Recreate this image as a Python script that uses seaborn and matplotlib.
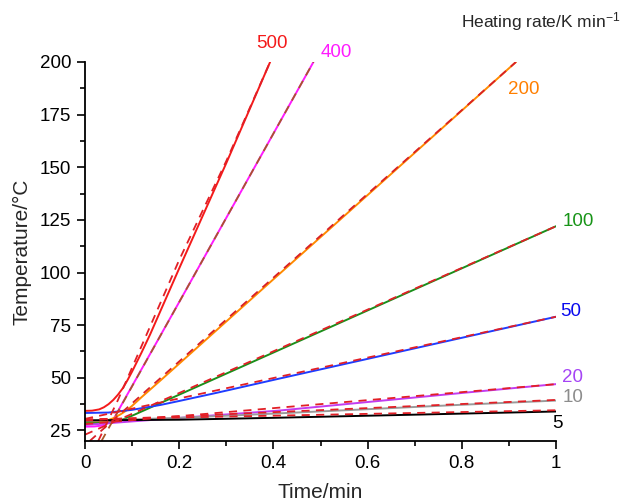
import numpy as np
import pandas as pd
import matplotlib
matplotlib.use("Agg")
import matplotlib.pyplot as plt
from matplotlib.ticker import MultipleLocator, FixedLocator
import seaborn as sns

# Heating rates (K/min) used as curve labels
rates = ["500", "400", "200", "100", "50", "20", "10", "5"]

# Measured temperature traces (solid lines)
t500 = [0, 0.015, 0.03, 0.04, 0.05, 0.06, 0.07, 0.08, 0.09, 0.1, 0.12, 0.138, 0.2, 0.3, 0.393]
T500 = [34.3, 34.4, 35.0, 36.0, 37.5, 39.5, 42.0, 45.0, 48.8, 53.0, 62.0, 70.5, 102.0, 152.0, 200.0]
t400 = [0, 0.02, 0.035, 0.045, 0.055, 0.062, 0.07, 0.08, 0.107, 0.2, 0.3, 0.485]
T400 = [26.8, 26.9, 27.3, 28.0, 29.3, 31.0, 34.2, 38.2, 48.9, 86.0, 126.0, 200.0]
t200 = [0, 0.03, 0.045, 0.06, 0.075, 0.09, 0.1, 0.12, 0.163, 0.35, 0.6, 0.915]
T200 = [28.9, 29.0, 29.6, 30.8, 32.6, 34.8, 36.7, 40.8, 49.3, 86.8, 136.8, 200.0]
t100 = [0, 0.04, 0.06, 0.08, 0.1, 0.12, 0.15, 0.2, 0.4, 0.6, 0.8, 1.0]
T100 = [28.4, 28.5, 29.0, 30.2, 32.0, 34.0, 37.0, 42.0, 62.0, 82.0, 102.0, 122.0]
t50 = [0, 0.05, 0.1, 0.16, 0.2, 0.28, 0.41, 0.6, 0.8, 1.0]
T50 = [33.3, 33.5, 34.8, 37.1, 39.0, 42.9, 49.5, 59.0, 69.0, 79.0]
t20 = [0, 0.16, 0.41, 0.6, 0.8, 1.0]
T20 = [27.6, 30.3, 34.4, 38.5, 42.8, 47.0]
t10 = [0, 0.2, 0.4, 0.6, 0.8, 1.0]
T10 = [29.5, 31.0, 33.0, 35.1, 37.2, 39.2]
t5 = [0, 0.2, 0.4, 0.6, 0.8, 1.0]
T5 = [29.8, 30.1, 31.0, 32.0, 33.0, 34.0]

# Model temperature traces (dashed lines)
d500_t = [0.028, 0.07, 0.2, 0.3, 0.393]
d500_T = [20.0, 39.5, 106.0, 153.0, 200.0]
d400_t = [0.035, 0.485]
d400_T = [20.0, 200.0]
d200_t = [0.01, 0.915]
d200_T = [20.0, 200.0]
d100_t = [0, 1.0]
d100_T = [23.0, 122.0]
d50_t = [0, 1.0]
d50_T = [30.5, 79.0]
d20_t = [0, 1.0]
d20_T = [28.0, 47.0]
d10_t = [0, 1.0]
d10_T = [29.8, 39.5]
d5_t = [0, 1.0]
d5_T = [30.3, 34.6]

# Rate label anchor points (time, temperature)
label_t = [0.397, 0.533, 0.932, 1.047, 1.032, 1.036, 1.036, 1.004]
label_T = [208.6, 204.3, 186.7, 124.3, 81.4, 50.0, 40.5, 28.1]

x_ticks = [0, 0.2, 0.4, 0.6, 0.8, 1.0]
x_ticklabels = ["0", "0.2", "0.4", "0.6", "0.8", "1"]
y_ticks = [25, 50, 75, 100, 125, 150, 175, 200]

line_colors = ["#f41a1a", "#ff1aff", "#ff8a00", "#1a8f1a", "#1f3cff", "#c23cf0", "#9a9a9a", "#000000"]
label_colors = ["#f41a1a", "#ff1aff", "#ff7f00", "#179417", "#0a0aee", "#a544f5", "#8c8c8c", "#000000"]
dash_colors = ["#e21f26", "#a8582a", "#d81f26", "#e21f26", "#e21f26", "#e21f26", "#e21f26", "#e21f26"]

solids = [(t500, T500), (t400, T400), (t200, T200), (t100, T100),
          (t50, T50), (t20, T20), (t10, T10), (t5, T5)]
dashed = [(d500_t, d500_T), (d400_t, d400_T), (d200_t, d200_T), (d100_t, d100_T),
          (d50_t, d50_T), (d20_t, d20_T), (d10_t, d10_T), (d5_t, d5_T)]

sns.set_theme(style="ticks")
plt.rcParams["font.family"] = ["Liberation Sans", "DejaVu Sans"]
plt.rcParams["mathtext.default"] = "regular"

fig = plt.figure(figsize=(6.27, 5.03), dpi=100)
ax = fig.add_axes([0.1356, 0.1233, 0.7512, 0.7535])

for (tt, TT), c in zip(solids, line_colors):
    df = pd.DataFrame({"time": tt, "temp": TT})
    sns.lineplot(data=df, x="time", y="temp", ax=ax, color=c, lw=1.4,
                 sort=False, estimator=None, legend=False)

for (tt, TT), c in zip(dashed, dash_colors):
    df = pd.DataFrame({"time": tt, "temp": TT})
    sns.lineplot(data=df, x="time", y="temp", ax=ax, color=c, lw=1.3,
                 linestyle=(0, (4.5, 3.5)), sort=False, estimator=None, legend=False)

for lab, x, y, c in zip(rates, label_t, label_T, label_colors):
    ax.text(x, y, lab, color=c, fontsize=13.5, ha="center", va="center", clip_on=False)

fig.text(0.99, 0.958, "Heating rate/K min$^{-1}$", ha="right", va="center", fontsize=12.5)

ax.set_xlim(0, 1)
ax.set_ylim(20, 200)
ax.set_xticks(x_ticks)
ax.set_xticklabels(x_ticklabels)
ax.set_yticks(y_ticks)
ax.set_yticklabels([str(v) for v in y_ticks])
ax.xaxis.set_minor_locator(MultipleLocator(0.1))
ax.yaxis.set_minor_locator(FixedLocator(np.arange(37.5, 200, 25)))
ax.tick_params(which="major", direction="out", length=6, width=1.2, labelsize=13.5,
               colors="black", pad=4)
ax.tick_params(which="minor", direction="out", length=3.5, width=1.2, colors="black")
ax.set_xlabel("Time/min", fontsize=15, labelpad=8)
ax.set_ylabel("Temperature/°C", fontsize=15, labelpad=6)

for side in ["top", "right"]:
    ax.spines[side].set_visible(False)
for side in ["left", "bottom"]:
    ax.spines[side].set_linewidth(1.3)
    ax.spines[side].set_color("black")

fig.savefig("out.png", dpi=100)
